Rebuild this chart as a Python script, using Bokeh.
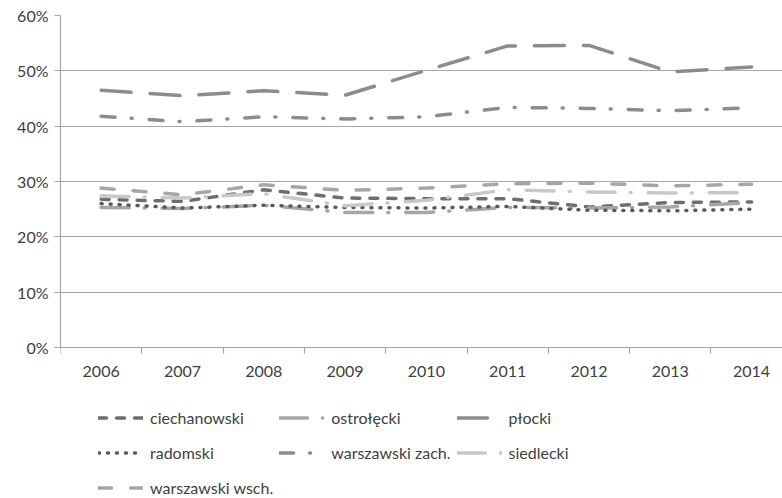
from bokeh.plotting import figure
from bokeh.models import FixedTicker, Legend, LegendItem, PrintfTickFormatter, Range1d
from bokeh.embed import file_html
from bokeh.resources import INLINE

years = [2006, 2007, 2008, 2009, 2010, 2011, 2012, 2013, 2014]

ciechanowski = [26.8, 26.4, 28.5, 27.0, 26.9, 26.9, 25.4, 26.2, 26.3]
ostroleki = [25.3, 25.1, 25.7, 24.4, 24.4, 25.3, 25.2, 25.4, 26.2]
plocki = [46.5, 45.5, 46.4, 45.6, 50.1, 54.5, 54.6, 49.8, 50.7]
radomski = [26.0, 25.2, 25.7, 25.3, 25.2, 25.5, 24.8, 24.7, 25.0]
warszawski_zach = [41.8, 40.8, 41.7, 41.3, 41.7, 43.4, 43.2, 42.8, 43.3]
siedlecki = [27.4, 27.0, 27.8, 25.6, 26.6, 28.5, 28.1, 27.9, 28.0]
warszawski_wsch = [28.8, 27.6, 29.4, 28.4, 28.8, 29.6, 29.7, 29.2, 29.5]

names = ["ciechanowski", "ostrołęcki", "płocki", "radomski",
         "warszawski zach.", "siedlecki", "warszawski wsch."]
y_ticks = [0, 10, 20, 30, 40, 50, 60]

FONT = "Lato"
TEXT = "#404040"
AXIS = "#a6a6a6"

# frame spans from the 60% line down to the page bottom; the x axis sits at 0%
p = figure(width=782, height=498, output_backend="svg", toolbar_location=None,
           x_range=Range1d(2005.5, 2014.38), y_range=Range1d(-27.3, 60),
           min_border_left=60, min_border_right=0, min_border_top=15,
           min_border_bottom=0)
p.outline_line_color = None
p.background_fill_color = "white"
p.border_fill_color = "white"
p.xgrid.grid_line_color = None
p.ygrid.grid_line_color = AXIS
p.ygrid.grid_line_width = 1.2
p.ygrid.ticker = FixedTicker(ticks=y_ticks)

# y axis
p.yaxis.ticker = FixedTicker(ticks=y_ticks)
p.yaxis.bounds = (0, 60)
p.yaxis.formatter = PrintfTickFormatter(format="%d%%")
p.yaxis.axis_line_color = AXIS
p.yaxis.axis_line_width = 1.2
p.yaxis.major_tick_line_color = AXIS
p.yaxis.major_tick_line_width = 1.2
p.yaxis.major_tick_out = 6
p.yaxis.major_tick_in = 0
p.yaxis.minor_tick_line_color = None
p.yaxis.major_label_standoff = 6
p.yaxis.major_label_text_font = FONT
p.yaxis.major_label_text_font_size = "16px"
p.yaxis.major_label_text_color = TEXT

# x axis
p.xaxis.fixed_location = 0
p.xaxis.ticker = FixedTicker(ticks=years, minor_ticks=[y - 0.5 for y in years])
p.xaxis.axis_line_color = AXIS
p.xaxis.axis_line_width = 1.2
p.xaxis.major_tick_out = 0
p.xaxis.major_tick_in = 0
p.xaxis.minor_tick_line_color = AXIS
p.xaxis.minor_tick_line_width = 1.2
p.xaxis.minor_tick_out = 6
p.xaxis.minor_tick_in = 0
p.xaxis.major_label_standoff = 13
p.xaxis.major_label_text_font = FONT
p.xaxis.major_label_text_font_size = "16px"
p.xaxis.major_label_text_color = TEXT

series = [
    (ciechanowski, "#6e6e6e", "8 10"),
    (ostroleki, "#a6a6a6", "28 15 1 17"),
    (plocki, "#8c8c8c", "30 19"),
    (radomski, "#5a5a5a", "1 8"),
    (warszawski_zach, "#8c8c8c", "14 16 1 17"),
    (siedlecki, "#c8c8c8", "28 15 1 17"),
    (warszawski_wsch, "#a6a6a6", "13 19"),
]

items = []
for name, (vals, color, dash) in zip(names, series):
    r = p.line(years, vals, line_color=color, line_width=3.5, line_dash=dash,
               line_cap="round", line_join="round")
    items.append(LegendItem(label=name, renderers=[r]))

legend = Legend(items=items, location=(38, -3.5), orientation="horizontal", ncols=3,
                glyph_width=45, glyph_height=29, label_standoff=7,
                label_width=118, label_height=29, spacing=6, padding=0, margin=0,
                border_line_color=None, background_fill_alpha=0,
                label_text_font=FONT, label_text_font_size="16px",
                label_text_color=TEXT)
p.add_layout(legend)

open("out.html", "w").write(file_html(p, INLINE))
